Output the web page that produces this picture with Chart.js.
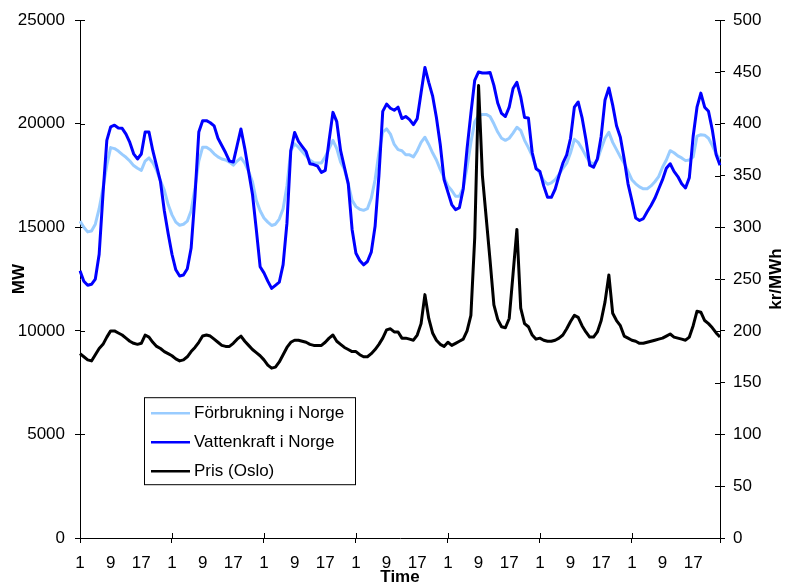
<!DOCTYPE html>
<html lang="sv">
<head>
  <meta charset="UTF-8" />
  <title>Förbrukning, vattenkraft och pris</title>
  <style>
    html, body { margin: 0; padding: 0; background: #fff; }
    #wrap { width: 785px; height: 585px; }
  </style>
</head>
<body>
  <div id="wrap"><canvas id="chart" width="785" height="585"></canvas></div>

  <script src="https://cdn.jsdelivr.net/npm/chart.js"></script>
  <script>
    // Timvärden, 7 dygn x 24 timmar
    const consumption = [
      15300, 15000, 14780, 14820, 15150, 15900, 16900, 18000, 18850, 18800, 18680, 18520, 18380, 18200, 17980, 17850, 17750, 18200, 18350, 18120, 17750, 17250, 16800, 16100,
      15600, 15250, 15100, 15150, 15300, 15800, 16900, 18200, 18870, 18870, 18750, 18550, 18400, 18300, 18250, 18150, 18000, 18200, 18350, 18100, 17700, 17200, 16300, 15800,
      15450, 15250, 15090, 15150, 15400, 15900, 17000, 18700, 19030, 18870, 18650, 18450, 18250, 18120, 18110, 18110, 18400, 18800, 19200, 18800, 18150, 17800, 17100, 16300,
      16000, 15870, 15820, 15900, 16400, 17300, 18600, 19600, 19750, 19500, 19000, 18750, 18700, 18500, 18500, 18400, 18700, 19100, 19350, 19000, 18600, 18250, 17800, 17400,
      17000, 16780, 16500, 16500, 16900, 17900, 19100, 20100, 20400, 20450, 20450, 20350, 20000, 19600, 19300, 19200, 19300, 19550, 19830, 19680, 19200, 18850, 18450, 17900,
      17600, 17250, 17080, 17150, 17300, 17550, 17850, 18100, 18600, 19250, 19100, 18800, 18450, 18150, 18050, 18250, 18800, 19300, 19590, 19100, 18750, 18400, 18100, 17700,
      17300, 17100, 16950, 16860, 16860, 17000, 17200, 17450, 17900, 18250, 18700, 18600, 18450, 18350, 18220, 18250, 18400, 19400, 19470, 19450, 19300, 18950, 18550, 18300
    ];
    const hydro = [
      12900, 12400, 12200, 12250, 12500, 13700, 16600, 19200, 19850, 19930, 19800, 19780, 19500, 19100, 18550, 18300, 18540, 19600, 19600, 18700, 17950, 17200, 15800, 14700,
      13700, 12950, 12650, 12700, 13000, 14000, 16500, 19600, 20150, 20150, 20050, 19900, 19300, 18950, 18600, 18200, 18150, 18950, 19750, 18800, 17700, 16600, 14900, 13100,
      12800, 12400, 12050, 12200, 12350, 13200, 15200, 18700, 19580, 19150, 18900, 18650, 18070, 18030, 17950, 17650, 17750, 19200, 20550, 20100, 18700, 17900, 17100, 14900,
      13750, 13400, 13190, 13350, 13800, 15050, 17500, 20600, 20950, 20750, 20650, 20800, 20250, 20350, 20200, 19960, 20250, 21500, 22720, 22000, 21350, 20300, 19000, 17300,
      16700, 16100, 15850, 15950, 16850, 18800, 20500, 22100, 22500, 22450, 22450, 22480, 21850, 21000, 20500, 20350, 20800, 21700, 22000, 21300, 20300, 20280, 18600, 17830,
      17700, 17000, 16450, 16450, 16850, 17500, 18100, 18500, 19300, 20800, 21050, 20300, 19250, 18000, 17900, 18300, 19400, 21150, 21730, 20900, 19900, 19350, 18300, 17100,
      16300, 15450, 15330, 15420, 15750, 16050, 16400, 16850, 17300, 17850, 18070, 17700, 17450, 17100, 16900, 17400, 19400, 20800, 21480, 20800, 20600, 19700, 18500, 18000
    ];
    const price = [
      178, 175, 172, 171, 177, 183, 187, 194, 200, 200, 198, 196, 193, 190, 188, 187, 188, 196, 194, 189, 185, 183, 180, 178,
      176, 173, 171, 172, 175, 180, 184, 189, 195, 196, 195, 192, 189, 186, 185, 185, 188, 192, 195, 190, 186, 182, 179, 176,
      172, 167, 164, 165, 170, 177, 184, 189, 191, 191, 190, 189, 187, 186, 186, 186, 189, 193, 196, 190, 187, 184, 182, 180,
      180, 177, 175, 175, 178, 182, 187, 193, 201, 202, 199, 199, 193, 193, 192, 191, 196, 207, 235, 212, 198, 191, 187, 185,
      189, 186, 188, 190, 192, 200, 215, 290, 437, 350, 309, 268, 225, 211, 204, 203, 212, 255, 298, 222, 207, 204, 196, 192,
      193, 191, 190, 190, 191, 193, 196, 202, 209, 215, 213, 205, 199, 194, 194, 199, 210, 228, 254, 217, 210, 205, 195, 193,
      191, 190, 188, 188, 189, 190, 191, 192, 193, 195, 197, 194, 193, 192, 191, 194, 205, 219, 218, 210, 207, 203, 198, 194
    ];
    const seriesNames = ['Förbrukning i Norge', 'Vattenkraft i Norge', 'Pris (Oslo)'];
    const seriesColors = ['#99ccff', '#0000ff', '#000000'];
    const days = 7;
    const labelEvery = 8;   // 1, 9, 17
    const tickEvery = 24;   // ett streck per dygn

    // kategorietiketter: timme 1-24 för varje dygn
    const hours = [];
    for (let d = 0; d < days; d++) {
      for (let h = 1; h <= 24; h++) hours.push(String(h));
    }

    Chart.defaults.font.family = "'Liberation Sans', Arial, sans-serif";
    Chart.defaults.color = '#000';

    // korta streck innanför axlarna (Excel-stil, strecket korsar axeln)
    const innerTicks = {
      id: 'innerTicks',
      beforeDatasetsDraw(chart) {
        const { ctx, chartArea, scales } = chart;
        ctx.save();
        ctx.strokeStyle = '#000';
        ctx.lineWidth = 1;
        ctx.beginPath();
        const last = scales.x.ticks.length - 1;
        scales.x.ticks.forEach((t, i) => {
          if (i % tickEvery !== 0 && i !== last) return;
          const px = Math.round(scales.x.getPixelForTick(i)) + 0.5;
          ctx.moveTo(px, chartArea.bottom - 5);
          ctx.lineTo(px, chartArea.bottom);
        });
        scales.y.ticks.forEach((t, i) => {
          const py = Math.round(scales.y.getPixelForTick(i)) + 0.5;
          ctx.moveTo(chartArea.left, py);
          ctx.lineTo(chartArea.left + 5, py);
        });
        scales.y2.ticks.forEach((t, i) => {
          const py = Math.round(scales.y2.getPixelForTick(i)) + 0.5;
          ctx.moveTo(chartArea.right - 5, py);
          ctx.lineTo(chartArea.right, py);
        });
        ctx.stroke();
        ctx.restore();
      }
    };

    // legend i rutan inne i diagrammet
    const boxLegend = {
      id: 'boxLegend',
      afterDraw(chart) {
        const { ctx, chartArea } = chart;
        const x = chartArea.left + 64;
        const y = chartArea.top + 377;
        const w = 211, h = 87;
        ctx.save();
        ctx.fillStyle = '#fff';
        ctx.fillRect(x, y, w, h);
        ctx.strokeStyle = '#000';
        ctx.lineWidth = 1;
        ctx.strokeRect(x + 0.5, y + 0.5, w, h);
        ctx.font = "17px 'Liberation Sans', Arial, sans-serif";
        ctx.textBaseline = 'middle';
        ctx.textAlign = 'left';
        chart.data.datasets.forEach((ds, i) => {
          const ry = y + 16 + i * 29;
          ctx.strokeStyle = ds.borderColor;
          ctx.lineWidth = 2.5;
          ctx.beginPath();
          ctx.moveTo(x + 7, ry);
          ctx.lineTo(x + 46, ry);
          ctx.stroke();
          ctx.fillStyle = '#000';
          ctx.fillText(ds.label, x + 50, ry);
        });
        ctx.restore();
      }
    };

    // höger axeltitel läses nerifrån och upp
    const rightTitle = {
      id: 'rightTitle',
      afterDraw(chart) {
        const { ctx, chartArea } = chart;
        ctx.save();
        ctx.translate(chart.width - 9, (chartArea.top + chartArea.bottom) / 2);
        ctx.rotate(-Math.PI / 2);
        ctx.font = "bold 17px 'Liberation Sans', Arial, sans-serif";
        ctx.fillStyle = '#000';
        ctx.textAlign = 'center';
        ctx.textBaseline = 'middle';
        ctx.fillText('kr/MWh', 0, 0);
        ctx.restore();
      }
    };

    new Chart(document.getElementById('chart'), {
      type: 'line',
      data: {
        labels: hours,
        datasets: [
          { label: seriesNames[0], data: consumption, borderColor: seriesColors[0], yAxisID: 'y', order: 3 },
          { label: seriesNames[1], data: hydro, borderColor: seriesColors[1], yAxisID: 'y', order: 2 },
          { label: seriesNames[2], data: price, borderColor: seriesColors[2], yAxisID: 'y2', order: 1 }
        ]
      },
      options: {
        responsive: false,
        animation: false,
        devicePixelRatio: 1,
        layout: { padding: { top: 20, left: 0, right: 0, bottom: 0 } },
        elements: {
          point: { radius: 0 },
          line: { borderWidth: 3, tension: 0, fill: false, borderJoinStyle: 'round' }
        },
        plugins: {
          legend: { display: false },
          tooltip: { enabled: false }
        },
        scales: {
          x: {
            type: 'category',
            offset: false,
            grid: {
              drawOnChartArea: false,
              tickLength: 5,
              color: ctx => (ctx.index % tickEvery === 0 || ctx.index === hours.length - 1) ? '#000' : 'rgba(0,0,0,0)'
            },
            border: { color: '#000', width: 1 },
            ticks: {
              autoSkip: false,
              maxRotation: 0,
              minRotation: 0,
              padding: 10,
              font: { size: 17 },
              callback(v, i) { return i % labelEvery === 0 ? this.getLabelForValue(v) : ''; }
            },
            title: {
              display: true,
              text: 'Time',
              font: { size: 17, weight: 'bold' },
              padding: { top: 0, bottom: -3 }
            },
            afterFit(s) { s.height = 47; }
          },
          y: {
            position: 'left',
            min: 0,
            max: 25000,
            grid: { drawOnChartArea: false, tickLength: 5, color: '#000' },
            border: { color: '#000', width: 1 },
            ticks: { stepSize: 5000, padding: 10, font: { size: 17 }, callback: v => String(v) },
            title: {
              display: true,
              text: 'MW',
              font: { size: 17, weight: 'bold' },
              padding: { top: 9, bottom: 0 }
            },
            afterFit(s) { s.width = 80; }
          },
          y2: {
            position: 'right',
            min: 0,
            max: 500,
            grid: { drawOnChartArea: false, tickLength: 5, color: '#000' },
            border: { color: '#000', width: 1 },
            ticks: { stepSize: 50, padding: 8, font: { size: 17 }, callback: v => String(v) },
            afterFit(s) { s.width = 65; }
          }
        }
      },
      plugins: [innerTicks, boxLegend, rightTitle]
    });
  </script>
</body>
</html>
